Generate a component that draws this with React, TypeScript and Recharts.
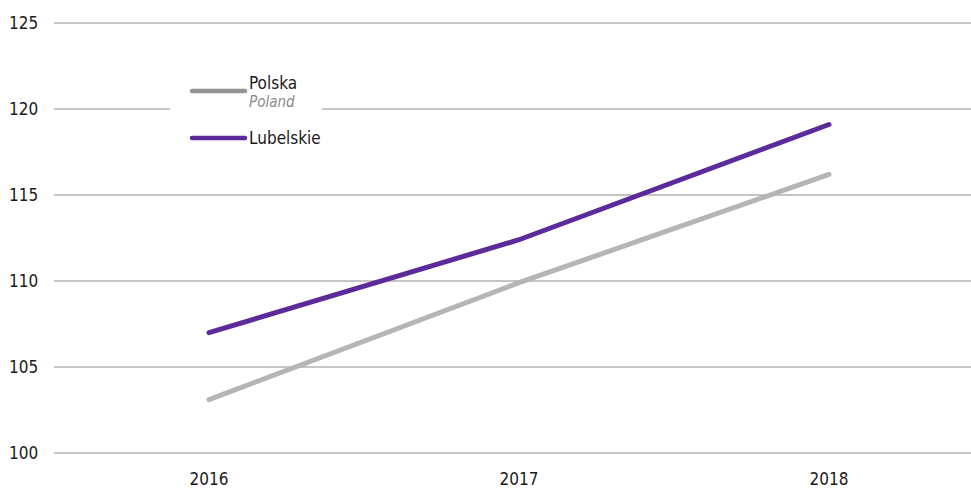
import { LineChart, Line, XAxis, YAxis, CartesianGrid } from "recharts";

const years = ["2016", "2017", "2018"];
const polska = [103.1, 109.9, 116.2];
const lubelskie = [107.0, 112.4, 119.1];
const yTicks = [100, 105, 110, 115, 120, 125];

const data = years.map((year, i) => ({ year, polska: polska[i], lubelskie: lubelskie[i] }));

const font = "'DejaVu Sans Condensed', 'DejaVu Sans', sans-serif";

const colors = {
    polska: "#b5b5b5",
    polskaLegend: "#939393",
    lubelskie: "#5b2a9b",
    grid: "#8a8a8a",
    text: "#1a1a1a",
};

const YTick = (props: any) => {
    const { y, payload } = props;
    return (
        <text x={9} y={y} dy={6} textAnchor="start" fontSize={17} fill={colors.text} fontFamily={font} style={{ fontStretch: "condensed" }}>
            {payload.value}
        </text>
    );
};

// legend sits on top of the chart with a white box that cuts the gridline
const LegendBox = () => (
    <div style={{ position: "absolute", left: 170, top: 65, width: 152, height: 86, background: "#fff" }}>
        <svg width={152} height={86} style={{ position: "absolute", left: 0, top: 0, fontFamily: font, fontStretch: "condensed" }}>
            <line x1={22} y1={26} x2={75} y2={26} stroke={colors.polskaLegend} strokeWidth={4.5} strokeLinecap="round" />
            <text x={79} y={24} fontSize={17} fill={colors.text}>Polska</text>
            <text x={79} y={42} fontSize={15} fill="#8a8a8a" fontStyle="italic">Poland</text>
            <line x1={22} y1={73} x2={75} y2={73} stroke={colors.lubelskie} strokeWidth={4.5} strokeLinecap="round" />
            <text x={79} y={79} fontSize={17} fill={colors.text}>Lubelskie</text>
        </svg>
    </div>
);

export default function App() {
    return (
        <div style={{ position: "absolute", left: 0, top: 0, width: 971, height: 488 }}>
            <LineChart width={971} height={488} data={data} margin={{ top: 23, right: 0, bottom: 0, left: 0 }}>
                <CartesianGrid vertical={false} stroke={colors.grid} />
                <XAxis
                    dataKey="year"
                    axisLine={false}
                    tickLine={false}
                    padding={{ left: 155, right: 142 }}
                    tick={{ fontSize: 17, fill: colors.text, fontFamily: font, style: { fontStretch: "condensed" } }}
                    tickMargin={14}
                    height={35}
                />
                <YAxis
                    domain={[100, 125]}
                    ticks={yTicks}
                    axisLine={false}
                    tickLine={false}
                    width={54}
                    tick={<YTick />}
                    interval={0}
                />
                <Line type="linear" dataKey="polska" stroke={colors.polska} strokeWidth={5} strokeLinecap="round" dot={false} isAnimationActive={false} />
                <Line type="linear" dataKey="lubelskie" stroke={colors.lubelskie} strokeWidth={5} strokeLinecap="round" dot={false} isAnimationActive={false} />
            </LineChart>
            <LegendBox />
        </div>
    );
}
